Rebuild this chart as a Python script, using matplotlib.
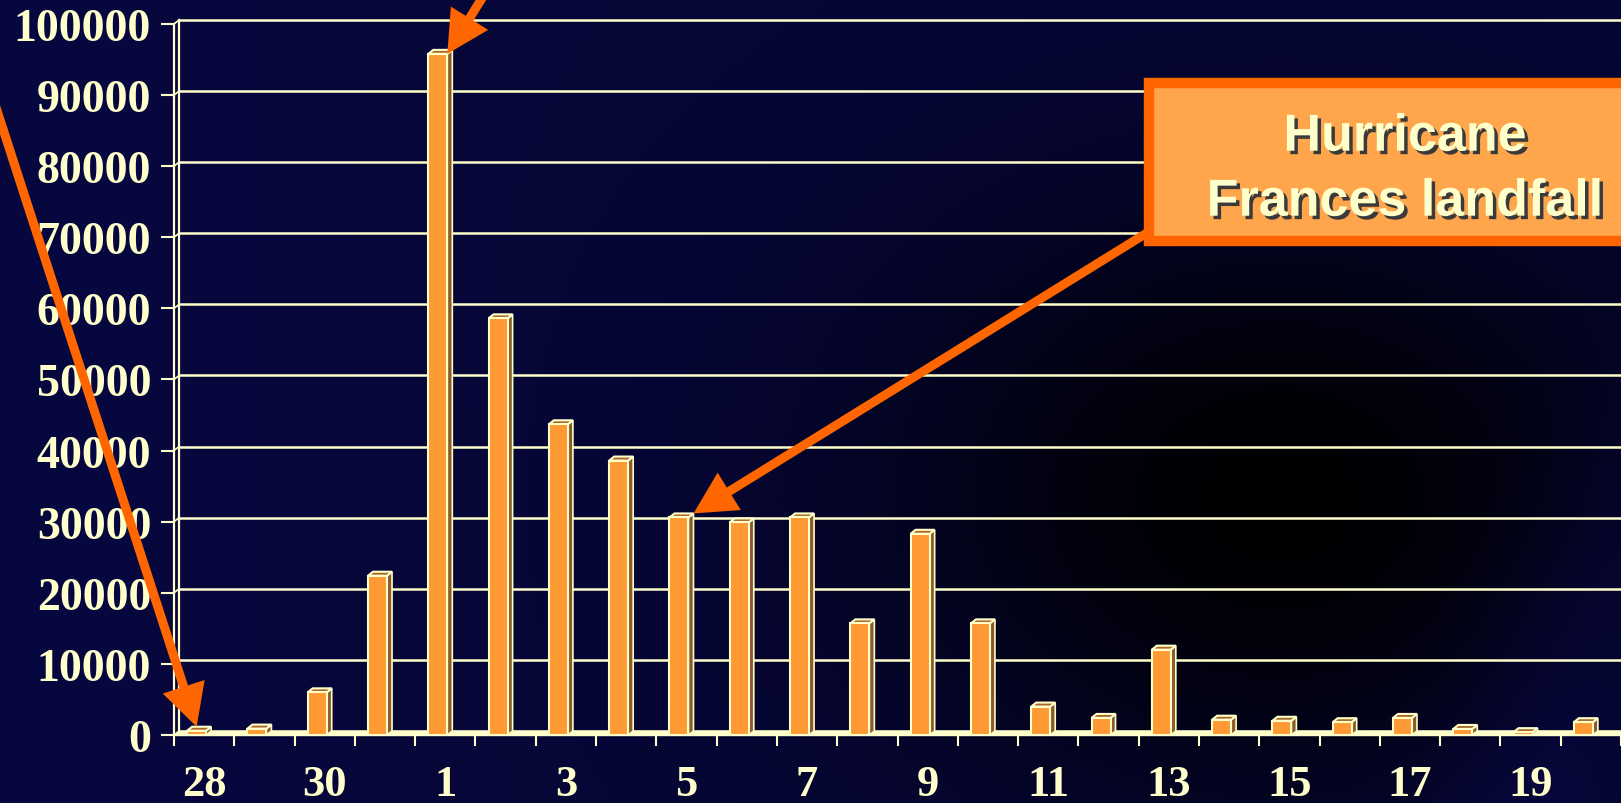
import numpy as np
import matplotlib
matplotlib.use('Agg')
import matplotlib.pyplot as plt
from matplotlib.patches import Rectangle, Polygon, FancyArrow
import matplotlib.patheffects as pe

# Daily values, 28 Aug .. 20 Sep
days = ['28', '29', '30', '31', '1', '2', '3', '4', '5', '6', '7', '8',
        '9', '10', '11', '12', '13', '14', '15', '16', '17', '18', '19', '20']
calls = [600, 900, 6000, 22400, 95800, 58600, 43700, 38600, 30600, 29900,
         30600, 15700, 28300, 15700, 4000, 2400, 12000, 2150, 2000, 1800,
         2400, 850, 400, 1800]
yticks = list(range(0, 100001, 10000))
box_lines = ['Hurricane', 'Frances landfall']

cream = '#FFFFCC'
orange = '#FF6600'
bar_front = '#FF9933'
bar_side = '#8B5A2B'
bar_top = '#A8682C'

W, H = 1621, 804
plt.rcParams['font.family'] = ['Liberation Serif', 'DejaVu Serif']
fig = plt.figure(figsize=(W / 100, H / 100), dpi=100)

# background gradient
bg = fig.add_axes([0, 0, 1, 1], zorder=0)
yy, xx = np.mgrid[0:H, 0:W].astype(float)
navy = np.array([0.025, 0.025, 0.22])
dark = np.exp(-((xx - 1280) / 400) ** 2 - ((yy - 500) / 310) ** 2)
left = np.exp(-((xx - 0) / 300) ** 2) * 0.15
stripe = np.exp(-((xx - (1560 - (yy - 700) * 0.35)) / 100) ** 2) * np.clip((yy - 300) / 300, 0, 1)
shade = 1 - 0.97 * dark + left + 0.3 * stripe
img = np.clip(navy[None, None, :] * shade[..., None], 0, 1)
bg.imshow(img, aspect='auto', extent=[0, W, H, 0])
bg.set_xlim(0, W)
bg.set_ylim(H, 0)
bg.axis('off')

# main chart
x0, x1, yb, yt = 174, W, 736, 25
ax = fig.add_axes([x0 / W, (H - yb) / H, (x1 - x0) / W, (yb - yt) / H], zorder=1)
ax.set_facecolor('none')
n = len(days)
ax.set_xlim(-0.5, n - 0.5)
ax.set_ylim(0, 100000)

ux = (x1 - x0) / n            # px per category
uy = (yb - yt) / 100000       # px per unit
ddx = 5 / ux                  # 3D depth
ddy = 4 / uy
off = -7.5 / ux
bw = 19 / ux

# back wall gridlines and left wall
for v in yticks:
    ax.plot([-0.5 + ddx, n + 1], [v + ddy, v + ddy], color=cream, lw=1.8,
            zorder=1, clip_on=False)
    ax.plot([-0.5, -0.5 + ddx], [v, v + ddy], color=cream, lw=1.2,
            zorder=1, clip_on=False)
ax.plot([-0.5 + ddx, -0.5 + ddx], [ddy, 100000 + ddy], color=cream, lw=1.6,
        zorder=1, clip_on=False)

# floor
ax.add_patch(Polygon([(-0.5, 0), (n + 1, 0), (n + 1, ddy), (-0.5 + ddx, ddy)],
                     closed=True, facecolor=cream, edgecolor=cream, lw=1,
                     zorder=2, clip_on=False))

# 3D bars
for i, v in enumerate(calls):
    xl = i + off - bw / 2
    xr = i + off + bw / 2
    ax.add_patch(Polygon([(xr, 0), (xr + ddx, ddy), (xr + ddx, v + ddy), (xr, v)],
                         closed=True, facecolor=bar_side, edgecolor=cream,
                         lw=1.2, zorder=3))
    ax.add_patch(Polygon([(xl, v), (xr, v), (xr + ddx, v + ddy), (xl + ddx, v + ddy)],
                         closed=True, facecolor=bar_top, edgecolor=cream,
                         lw=1.5, zorder=3))
    ax.add_patch(Rectangle((xl, 0), bw, v, facecolor=bar_front, edgecolor=cream,
                           lw=1.5, zorder=4))

for s in ['top', 'right', 'bottom']:
    ax.spines[s].set_visible(False)
ax.spines['left'].set_color(cream)
ax.spines['left'].set_linewidth(1.6)

ax.set_yticks(yticks)
ax.set_yticklabels([str(v) for v in yticks])
ax.tick_params(axis='y', length=9.5, width=1.5, color=cream, pad=7,
               labelsize=33, labelcolor=cream)
ax.set_xticks(np.arange(-0.5, n, 1))
ax.set_xticklabels([])
ax.set_xticks(range(0, n, 2), minor=True)
ax.set_xticklabels(days[::2], minor=True)
ax.tick_params(axis='x', which='major', length=8, width=1.5, color=cream)
ax.tick_params(axis='x', which='minor', length=0, pad=21, labelsize=32,
               labelcolor=cream)
for lab in ax.get_yticklabels() + ax.get_xticklabels(minor=True):
    lab.set_fontweight('bold')

# overlay in pixel coordinates
ov = fig.add_axes([0, 0, 1, 1], zorder=2)
ov.set_facecolor('none')
ov.set_xlim(0, W)
ov.set_ylim(H, 0)
ov.axis('off')


def to_px(x, y):
    dx, dy = ax.transData.transform((x, y))
    return dx, H - dy


def arrow(sx, sy, tx, ty):
    ov.add_patch(FancyArrow(sx, sy, tx - sx, ty - sy, width=9, head_width=44,
                            head_length=42, length_includes_head=True,
                            color=orange, lw=0, zorder=5, clip_on=False))


tx, ty = to_px(4 + off + bw / 2, calls[4])
arrow(494, -20, tx, ty)
tx, ty = to_px(0 + off, calls[0] + ddy)
arrow(-44, -15, tx, ty)
tx, ty = to_px(8 + off + bw / 2 + ddx, calls[8] + ddy)
arrow(1150, 232, tx, ty)

ov.add_patch(Rectangle((1149, 83.5), 600, 158, facecolor='#FFA64D',
                       edgecolor=orange, lw=7.5, zorder=6, clip_on=False))
shadow = [pe.withSimplePatchShadow(offset=(2.5, -2.5), shadow_rgbFace='#3a3a3a',
                                   alpha=1.0)]
for txt, yb_ in zip(box_lines, [151.7, 216.7]):
    ov.text(1405, yb_, txt, ha='center', va='baseline', fontsize=37.5,
            fontweight='bold', family=['Liberation Sans', 'DejaVu Sans'],
            color=cream, zorder=7, path_effects=shadow)

fig.savefig('out.png', dpi=100)
